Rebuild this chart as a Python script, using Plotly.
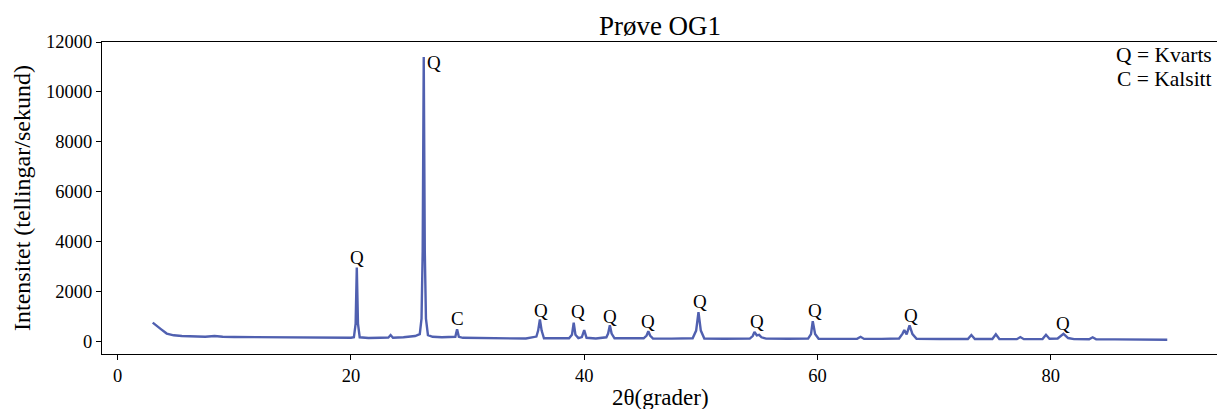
import plotly.graph_objects as go

# diffraktogram, avlest frå figuren (2theta i grader, intensitet i teljingar/sekund)
two_theta = [
    3.0, 3.3, 3.7, 4.2, 4.8, 5.5, 6.5, 7.5, 8.3, 9.0, 10.0, 11.0, 12.0, 13.0,
    14.0, 15.5, 17.0, 18.5, 20.0,
    20.25, 20.4, 20.5, 20.6, 20.75,
    21.5, 22.5, 23.2, 23.4, 23.6, 24.5, 25.5, 25.9,
    26.05, 26.15, 26.24, 26.33, 26.43, 26.6,
    27.0, 27.8, 28.6, 28.95, 29.1, 29.25, 29.6,
    30.5, 32.0, 33.5, 35.0, 35.9, 36.05, 36.2, 36.35, 36.55,
    37.5, 38.7, 38.95, 39.1, 39.25, 39.5, 39.8, 40.0, 40.2,
    41.0, 41.9, 42.05, 42.2, 42.35, 42.6,
    44.0, 45.1, 45.35, 45.5, 45.65, 45.9,
    47.5, 49.3, 49.6, 49.8, 50.0, 50.3,
    52.0, 54.2, 54.45, 54.6, 54.8, 55.0, 55.2, 55.6,
    57.5, 59.2, 59.45, 59.6, 59.8, 60.1,
    62.0, 63.4, 63.7, 64.0,
    65.5, 67.0, 67.3, 67.45, 67.65, 67.9, 68.15, 68.5,
    70.5, 72.9, 73.2, 73.5, 75.0, 75.3, 75.6,
    77.1, 77.4, 77.7, 79.3, 79.6, 79.9, 80.6, 81.1, 81.5, 82.0,
    83.3, 83.6, 83.9, 85.5, 87.0, 88.5, 90.0,
]
intensity = [
    740, 640, 480, 300, 230, 200, 185, 175, 200, 170, 165, 160, 175, 155,
    150, 145, 140, 135, 130,
    150, 700, 2950, 700, 150,
    125, 130, 135, 240, 135, 150, 200, 280,
    900, 3600, 11400, 3600, 900, 240,
    170, 150, 150, 170, 470, 170, 130,
    120, 115, 110, 100, 180, 420, 870, 420, 110,
    100, 110, 250, 735, 250, 120, 160, 440, 130,
    100, 150, 300, 630, 300, 110,
    100, 110, 220, 400, 220, 100,
    95, 110, 420, 1160, 420, 100,
    90, 100, 200, 360, 230, 250, 150, 95,
    90, 95, 280, 800, 280, 90,
    85, 90, 170, 85,
    85, 100, 300, 440, 270, 630, 280, 90,
    80, 80, 240, 80, 80, 270, 80,
    75, 160, 75, 80, 250, 90, 100, 290, 120, 75,
    70, 150, 70, 65, 60, 55, 50,
]

# etikettar for toppane
label_text = ["Q", "Q", "C", "Q", "Q", "Q", "Q", "Q", "Q", "Q", "Q", "Q"]
label_x = [20.5, 27.15, 29.13, 36.3, 39.5, 42.2, 45.5, 49.9, 54.8, 59.75, 68.0, 81.1]
label_y = [3370, 11195, 910, 1245, 1190, 1000, 775, 1580, 775, 1215, 1045, 710]

legend_lines = ["Q = Kvarts", "C = Kalsitt"]

x_ticks = [0, 20, 40, 60, 80]
y_ticks = [0, 2000, 4000, 6000, 8000, 10000, 12000]

font_family = "Liberation Serif"
line_color = "#5060b0"

# sida har 8 px body-marg, so figuren er 8 px mindre og margane justerte
fig = go.Figure()
fig.add_trace(go.Scatter(
    x=two_theta,
    y=intensity,
    mode="lines",
    line=dict(color=line_color, width=2.4),
    showlegend=False,
))

for txt, lx, ly in zip(label_text, label_x, label_y):
    fig.add_annotation(
        x=lx, y=ly, text=txt, showarrow=False,
        xanchor="center", yanchor="middle",
        font=dict(family=font_family, size=19, color="black"),
    )

for i, txt in enumerate(legend_lines):
    fig.add_annotation(
        x=1, y=1, xref="paper", yref="paper", text=txt, showarrow=False,
        xanchor="right", yanchor="middle", xshift=-4, yshift=-13 - 24 * i,
        font=dict(family=font_family, size=21.5, color="black"),
    )

fig.add_annotation(
    x=0, y=0.5, xref="paper", yref="paper", text="Intensitet (tellingar/sekund)",
    showarrow=False, textangle=-90, xanchor="center", yanchor="middle", xshift=-80,
    font=dict(family=font_family, size=24, color="black"),
)
fig.add_annotation(
    x=0.5, y=0, xref="paper", yref="paper", text="2θ(grader)",
    showarrow=False, xanchor="center", yanchor="middle", yshift=-43,
    font=dict(family=font_family, size=23, color="black"),
)

axis_style = dict(
    showline=True, linecolor="black", linewidth=1.2, mirror=True,
    ticks="outside", ticklen=5, tickwidth=1.2, tickcolor="black",
    showgrid=False, zeroline=False, automargin=False,
    tickfont=dict(family=font_family, size=18.5, color="black"),
)

fig.update_xaxes(range=[-1.35, 94.35], tickvals=x_ticks, **axis_style)
fig.update_yaxes(range=[-520, 12000], tickvals=y_ticks, tickformat="d", **axis_style)

fig.update_layout(
    width=1217,
    height=401,
    margin=dict(l=94, r=7, t=34, b=55, autoexpand=False),
    plot_bgcolor="white",
    paper_bgcolor="white",
    title=dict(
        text="Prøve OG1", x=(660 - 8) / 1217, xanchor="center",
        y=1 - 18 / 401, yanchor="middle", yref="container",
        font=dict(family=font_family, size=27, color="black"),
    ),
)

fig.write_html("out.html")
